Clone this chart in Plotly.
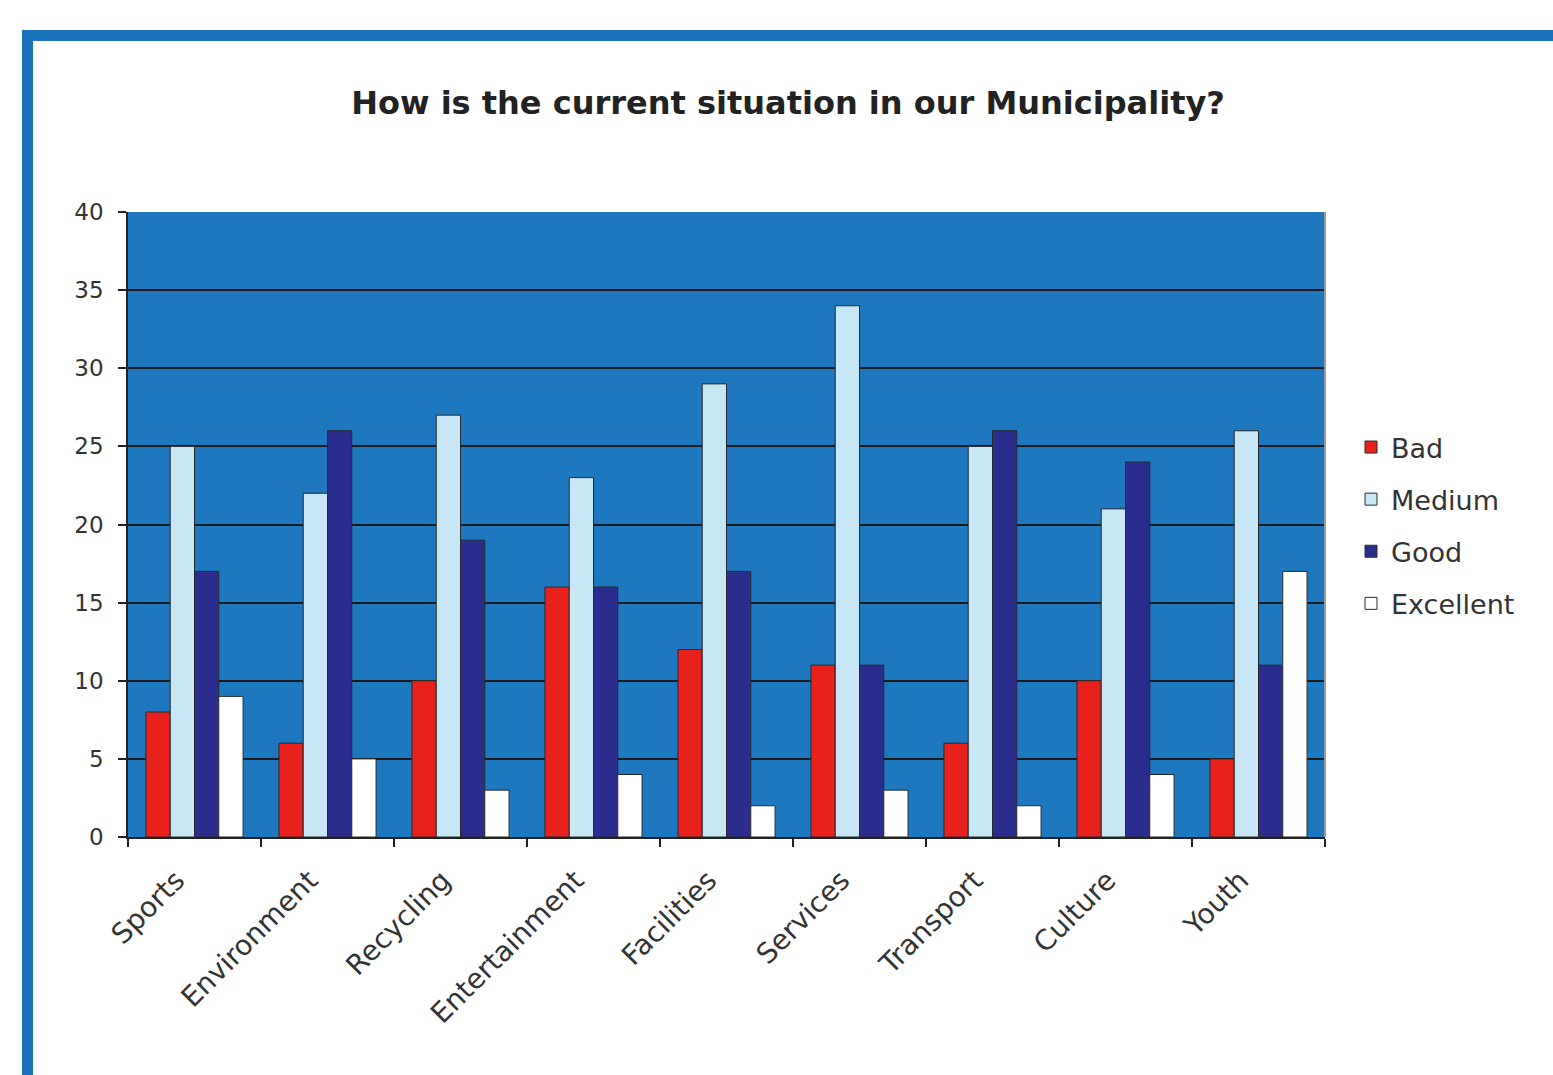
import plotly.graph_objects as go

categories = ["Sports", "Environment", "Recycling", "Entertainment", "Facilities",
              "Services", "Transport", "Culture", "Youth"]
bad = [8, 6, 10, 16, 12, 11, 6, 10, 5]
medium = [25, 22, 27, 23, 29, 34, 25, 21, 26]
good = [17, 26, 19, 16, 17, 11, 26, 24, 11]
excellent = [9, 5, 3, 4, 2, 3, 2, 4, 17]
y_ticks = [0, 5, 10, 15, 20, 25, 30, 35, 40]

W, H = 1553, 1075
L, R, T, B = 128, 1325, 212, 837  # plot area in pixels

series = [
    ("Bad", bad, "#e8211d"),
    ("Medium", medium, "#c8e7f6"),
    ("Good", good, "#2a2c8e"),
    ("Excellent", excellent, "#ffffff"),
]

fig = go.Figure()
for name, vals, color in series:
    fig.add_trace(go.Bar(
        x=categories, y=vals, name=name, legendgroup=name,
        marker=dict(color=color, line=dict(color="#2a2a2a", width=1)),
    ))


def px_x(p):
    return (p - L) / (R - L)


def px_y(p):
    return (B - p) / (B - T)


# outer blue frame (top and left edges)
fig.add_shape(type="rect", xref="paper", yref="paper",
              x0=px_x(22), x1=px_x(1560), y0=px_y(41), y1=px_y(30),
              fillcolor="#1a74bd", line_width=0, layer="above")
fig.add_shape(type="rect", xref="paper", yref="paper",
              x0=px_x(22), x1=px_x(33), y0=px_y(1080), y1=px_y(30),
              fillcolor="#1a74bd", line_width=0, layer="above")
# right edge of plot area
fig.add_shape(type="line", xref="paper", yref="paper",
              x0=1, x1=1, y0=0, y1=1,
              line=dict(color="#9a9a9a", width=2), layer="above")

fig.update_layout(
    width=W, height=H,
    margin=dict(l=L, r=W - R, t=T, b=H - B),
    paper_bgcolor="white",
    plot_bgcolor="#1e78c0",
    barmode="group",
    bargap=0.27,
    bargroupgap=0,
    title=dict(
        text="<b>How is the current situation in our Municipality?</b>",
        x=788 / W, xanchor="center", y=1 - 103 / H, yanchor="middle",
        font=dict(family="DejaVu Sans", size=32, color="#222222"),
    ),
    font=dict(family="DejaVu Sans", color="#333333"),
    legend=dict(
        x=px_x(1351), xanchor="left", y=px_y(423), yanchor="top",
        font=dict(size=27, color="#333333"),
        tracegroupgap=14,
        bgcolor="rgba(0,0,0,0)",
    ),
    showlegend=True,
)

fig.update_xaxes(
    type="category",
    tickson="boundaries",
    ticks="outside", ticklen=8, tickcolor="#222222", tickwidth=1.5,
    tickangle=-45,
    tickfont=dict(size=28, color="#333333"),
    ticklabelstandoff=14,
    ticklabelshift=-18,
    showline=True, linecolor="#222222", linewidth=1.5,
    showgrid=False,
)
fig.update_yaxes(
    range=[0, 40],
    tickvals=y_ticks,
    ticks="outside", ticklen=8, tickcolor="#222222", tickwidth=1.5,
    tickfont=dict(size=23, color="#333333"),
    ticklabelstandoff=10,
    showline=True, linecolor="#222222", linewidth=1.5,
    showgrid=True, gridcolor="#1a1a1a", gridwidth=1.5,
    zeroline=False,
)

fig.write_html("out.html")
